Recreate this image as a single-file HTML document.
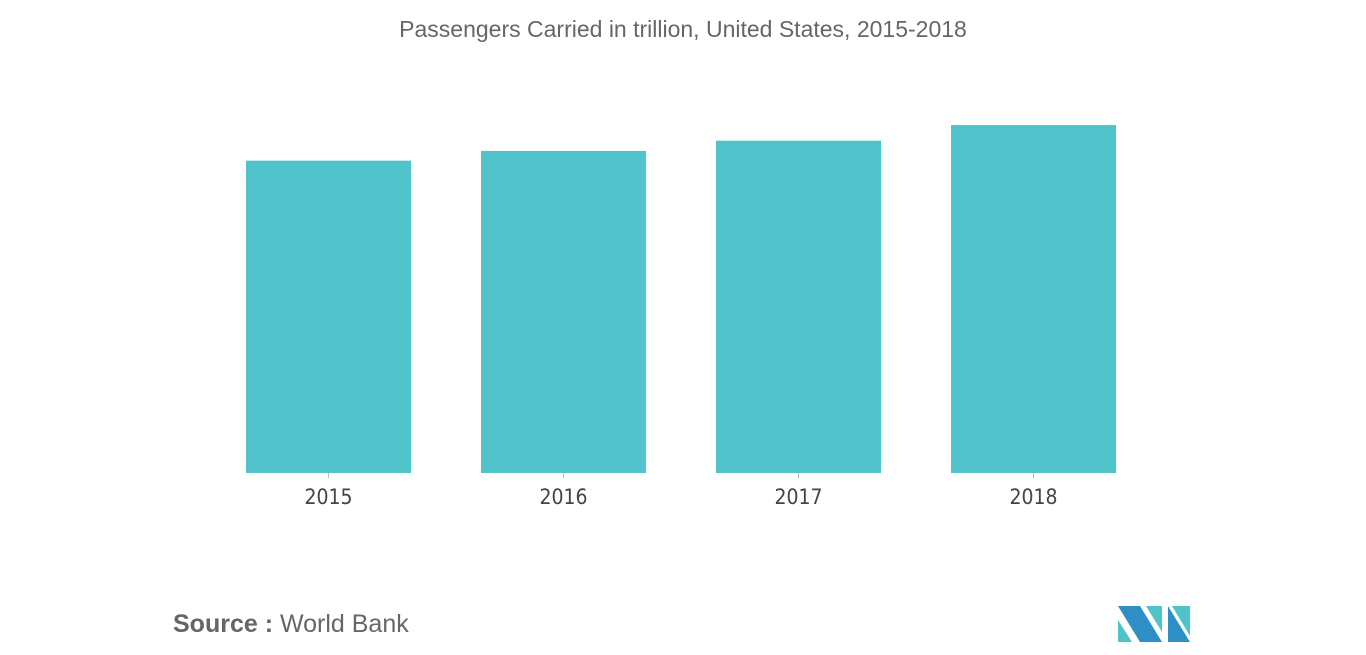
<!DOCTYPE html>
<html><head><meta charset="utf-8"><style>
body{margin:0;width:1366px;height:655px;background:#fff;overflow:hidden;font-family:"Liberation Sans",sans-serif}
svg{display:block}
</style></head><body>
<svg width="1366" height="655">
<text x="683" y="37" text-anchor="middle" font-size="23" fill="#666">Passengers Carried in trillion, United States, 2015-2018</text>
<g id="bars"></g>
<text x="173" y="632" font-size="25" fill="#666"><tspan font-weight="bold">Source :</tspan> World Bank</text>
<g>
<polygon points="1118,606 1140,606 1162,642 1140,642" fill="#2d8fc4"/>
<polygon points="1118,620 1132,642 1118,642" fill="#4fc2ca"/>
<polygon points="1146,606 1162,606 1162,632" fill="#4fc2ca"/>
<polygon points="1168,606 1190,642 1168,642" fill="#2d8fc4"/>
<polygon points="1172,606 1190,606 1190,636" fill="#4fc2ca"/>
</g>
</svg>
<script>
const categories=["2015","2016","2017","2018"];
const values=[0.798,0.823,0.849,0.889];
const base=473,scale=391.4,x0=328.5,step=235,bw=165;
const yPos=v=>base-v*scale;
const xPos=i=>x0+i*step;
const g=document.getElementById('bars');
const ns='http://www.w3.org/2000/svg';
categories.forEach((c,i)=>{
 const r=document.createElementNS(ns,'rect');
 r.setAttribute('x',xPos(i)-bw/2);r.setAttribute('y',yPos(values[i]));
 r.setAttribute('width',bw);r.setAttribute('height',base-yPos(values[i]));
 r.setAttribute('fill','#50c4ca');
 
 
 g.appendChild(r);
 const t=document.createElementNS(ns,'line');
 t.setAttribute('x1',xPos(i));t.setAttribute('x2',xPos(i));t.setAttribute('y1',base);t.setAttribute('y2',base+5);
 t.setAttribute('stroke','#bbb');
 
 
 g.appendChild(t);
 const l=document.createElementNS(ns,'text');
 l.setAttribute('x',xPos(i));l.setAttribute('y',504);l.setAttribute('text-anchor','middle');
 l.setAttribute('font-size','21');l.setAttribute('fill','#444');
 l.setAttribute('font-family','"DejaVu Sans Condensed","Liberation Sans Narrow",sans-serif');
 
 
 l.textContent=c;g.appendChild(l);
});
</script>
</body></html>
